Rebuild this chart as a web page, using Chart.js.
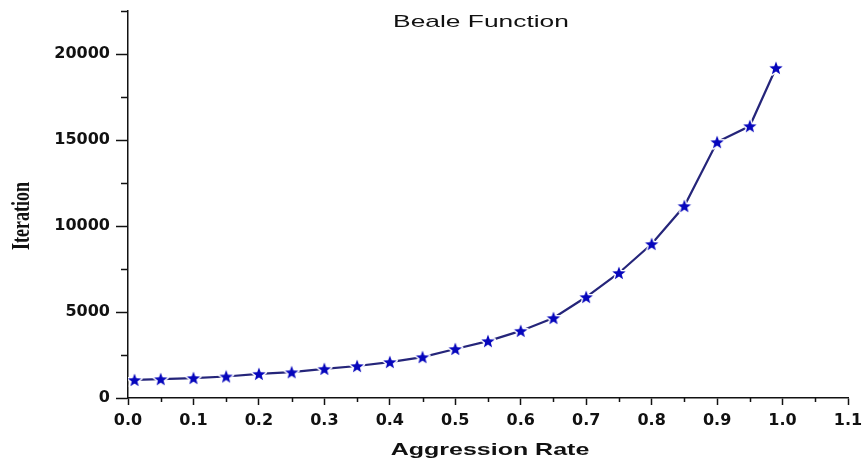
<!DOCTYPE html>
<html>
<head>
<meta charset="utf-8">
<script src="https://cdn.jsdelivr.net/npm/chart.js@4/dist/chart.umd.min.js"></script>
<style>
  html, body { margin: 0; padding: 0; background: #ffffff; }
  #wrap { width: 865px; height: 464px; }
</style>
</head>
<body>
<div id="wrap"><canvas id="chart" width="865" height="464"></canvas></div>
<script>
// Aggression rate (x) against iteration count (y) for the Beale function
const aggressionRate = [0.01, 0.05, 0.10, 0.15, 0.20, 0.25, 0.30, 0.35, 0.40, 0.45, 0.50,
                        0.55, 0.60, 0.65, 0.70, 0.75, 0.80, 0.85, 0.90, 0.95, 0.99];
const iterations = [1050, 1100, 1160, 1250, 1400, 1500, 1690, 1860, 2090, 2380, 2850,
                    3310, 3900, 4650, 5870, 7270, 8950, 11160, 14880, 15810, 19190];

// Axis ticks
const xMinorTicks = [0.05, 0.15, 0.25, 0.35, 0.45, 0.55, 0.65, 0.75, 0.85, 0.95, 1.05];
const yMinorTicks = [2500, 7500, 12500, 17500, 22500];
const yMajorStep = 5000;

const chartTitle = 'Beale Function';
const xTitle = 'Aggression Rate';
const yTitle = 'Iteration';

// Filled five-point star marker with a thin white halo
function makeStar(outer, inner, fill) {
  const pad = 2;
  const size = Math.ceil(outer * 2 + pad * 2);
  const c = document.createElement('canvas');
  c.width = size; c.height = size;
  const g = c.getContext('2d');
  const cx = size / 2, cy = size / 2 + 0.6;
  g.beginPath();
  for (let i = 0; i < 10; i++) {
    const r = i % 2 === 0 ? outer : inner;
    const a = -Math.PI / 2 + i * Math.PI / 5;
    const px = cx + r * Math.cos(a), py = cy + r * Math.sin(a);
    if (i === 0) g.moveTo(px, py); else g.lineTo(px, py);
  }
  g.closePath();
  g.lineJoin = 'round';
  g.strokeStyle = '#ffffff';
  g.lineWidth = 3;
  g.stroke();
  g.fillStyle = fill;
  g.fill();
  return c;
}
const starMarker = makeStar(7, 3, '#0606bc');

// Titles (horizontally widened) and minor tick marks
const decorations = {
  id: 'decorations',
  afterDraw(chart) {
    const { ctx, scales: { x, y }, chartArea } = chart;
    ctx.save();
    ctx.strokeStyle = '#111111';
    ctx.lineWidth = 1.5;
    ctx.beginPath();
    xMinorTicks.forEach(v => {
      const px = Math.round(x.getPixelForValue(v)) + 0.5;
      ctx.moveTo(px, chartArea.bottom);
      ctx.lineTo(px, chartArea.bottom + 4);
    });
    yMinorTicks.forEach(v => {
      const py = Math.round(y.getPixelForValue(v)) + 0.5;
      ctx.moveTo(chartArea.left - 7, py);
      ctx.lineTo(chartArea.left, py);
    });
    ctx.stroke();
    ctx.restore();

    ctx.save();
    ctx.fillStyle = '#111111';
    ctx.textAlign = 'center';
    ctx.textBaseline = 'alphabetic';

    ctx.save();
    ctx.translate(481, 27);
    ctx.scale(1.55, 1);
    ctx.font = '17px "Liberation Sans", Arial, sans-serif';
    ctx.fillText(chartTitle, 0, 0);
    ctx.restore();

    ctx.save();
    ctx.translate(490, 455);
    ctx.scale(1.47, 1);
    ctx.font = 'bold 17px "Liberation Sans", Arial, sans-serif';
    ctx.fillText(xTitle, 0, 0);
    ctx.restore();

    ctx.save();
    ctx.translate(22, 216);
    ctx.scale(1.4, 1);
    ctx.rotate(-Math.PI / 2);
    ctx.textBaseline = 'middle';
    ctx.font = 'bold 18px "Liberation Serif", "Times New Roman", serif';
    ctx.fillText(yTitle, 0, 0);
    ctx.restore();

    ctx.restore();
  }
};

const tickFont = { family: '"DejaVu Sans", sans-serif', size: 16, weight: 'bold' };

new Chart(document.getElementById('chart'), {
  type: 'scatter',
  data: {
    datasets: [{
      data: aggressionRate.map((v, i) => ({ x: v, y: iterations[i] })),
      showLine: true,
      borderColor: '#25257a',
      borderWidth: 2.2,
      pointStyle: starMarker,
      pointRadius: 7,
      pointHoverRadius: 7
    }]
  },
  plugins: [decorations],
  options: {
    responsive: false,
    animation: false,
    events: [],
    layout: { padding: { top: 11, right: 17, left: 0, bottom: 0 } },
    plugins: { legend: { display: false }, tooltip: { enabled: false }, title: { display: false } },
    scales: {
      x: {
        type: 'linear',
        min: 0,
        max: 1.1,
        afterFit(scale) {
          scale.height = 66;
          scale.paddingLeft = 0;
          scale.paddingRight = 0;
        },
        border: { display: true, color: '#111111', width: 1.5 },
        grid: { drawOnChartArea: false, drawTicks: true, tickLength: 7, tickColor: '#111111', tickWidth: 1.5 },
        ticks: {
          stepSize: 0.1,
          padding: 6,
          color: '#111111',
          font: tickFont,
          maxRotation: 0,
          autoSkip: false,
          callback: v => Number(v).toFixed(1)
        }
      },
      y: {
        type: 'linear',
        min: 0,
        max: 22500,
        afterFit(scale) {
          scale.width = 128;
          scale.paddingTop = 0;
          scale.paddingBottom = 0;
        },
        afterBuildTicks(scale) {
          scale.ticks = scale.ticks.filter(t => Math.round(t.value) % yMajorStep === 0);
        },
        border: { display: true, color: '#111111', width: 1.5 },
        grid: { drawOnChartArea: false, drawTicks: true, tickLength: 12, tickColor: '#111111', tickWidth: 1.5 },
        ticks: {
          stepSize: 2500,
          padding: 6,
          color: '#111111',
          font: tickFont,
          autoSkip: false,
          callback: v => String(Math.round(v))
        }
      }
    }
  }
});
</script>
</body>
</html>
